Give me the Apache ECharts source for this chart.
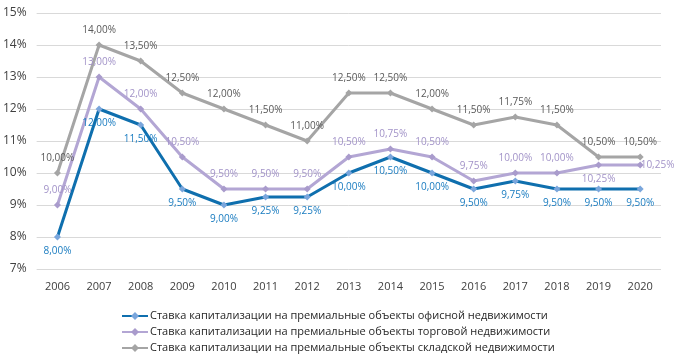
<!DOCTYPE html>
<html><head><meta charset="utf-8">
<script src="https://cdn.jsdelivr.net/npm/echarts@6/dist/echarts.min.js"></script>
<style>html,body{margin:0;padding:0;background:#fff}#c{width:674px;height:355px}</style>
</head><body><div id="c"></div>
<script>
const years = ['2006','2007','2008','2009','2010','2011','2012','2013','2014','2015','2016','2017','2018','2019','2020'];
const office = [8, 12, 11.5, 9.5, 9, 9.25, 9.25, 10, 10.5, 10, 9.5, 9.75, 9.5, 9.5, 9.5];
const retail = [9, 13, 12, 10.5, 9.5, 9.5, 9.5, 10.5, 10.75, 10.5, 9.75, 10, 10, 10.25, 10.25];
const warehouse = [10, 14, 13.5, 12.5, 12, 11.5, 11, 12.5, 12.5, 12, 11.5, 11.75, 11.5, 10.5, 10.5];
const names = [
  'Ставка капитализации на премиальные объекты офисной недвижимости',
  'Ставка капитализации на премиальные объекты торговой недвижимости',
  'Ставка капитализации на премиальные объекты складской недвижимости'
];
const fmt = v => v.toFixed(2).replace('.', ',') + '%';
const font = '"Open Sans", "Noto Sans", sans-serif';
function mk(name, data, lineColor, symColor, labColor, pos, overrides) {
  return {
    name, type: 'line', data: data.map((v, i) => {
      const o = overrides && overrides[i];
      return o ? { value: v, label: o } : v;
    }),
    symbol: 'diamond', symbolSize: 7,
    lineStyle: { color: lineColor, width: 3 },
    itemStyle: { color: symColor },
    label: { show: true, position: pos, distance: 6, color: labColor, fontSize: 10, fontFamily: font,
      formatter: p => fmt(p.value) },
    emphasis: { disabled: true }
  };
}
const legendTops = [309, 325, 341];
const legends = names.map((n, i) => ({
  orient: 'horizontal', left: 121, top: legendTops[i], itemWidth: 26, itemHeight: 10, padding: 0,
  textStyle: { color: '#262626', fontSize: 11, fontFamily: font, lineHeight: 14, padding: [0, 0, 0, -3] },
  data: [n]
}));
const chart = echarts.init(document.getElementById('c'), null, { renderer: 'canvas' });
chart.setOption({
  animation: false,
  grid: { left: 36, right: 13, top: 13, bottom: 86 },
  xAxis: {
    type: 'category', data: years, boundaryGap: true,
    axisLine: { show: false }, axisTick: { show: false },
    axisLabel: { color: '#404040', fontSize: 11, fontFamily: font, margin: 12 }
  },
  yAxis: {
    type: 'value', min: 7, max: 15, interval: 1,
    axisLabel: { formatter: v => v + '%', color: '#404040', fontSize: 12, fontFamily: font, margin: 10 },
    splitLine: { lineStyle: { color: '#d9d9d9', width: 1 } },
    axisLine: { show: false }, axisTick: { show: false }
  },
  legend: legends,
  series: [
    mk(names[2], warehouse, '#a5a5a5', '#a5a5a5', '#595959', 'top'),
    mk(names[1], retail, '#b3a6d4', '#a99bcc', '#a293c8', 'top',
      { 13: { position: 'bottom' }, 14: { position: 'right', distance: -3 } }),
    mk(names[0], office, '#0f6fae', '#7aa6dc', '#1a7cc0', 'bottom')
  ]
});
</script></body></html>
